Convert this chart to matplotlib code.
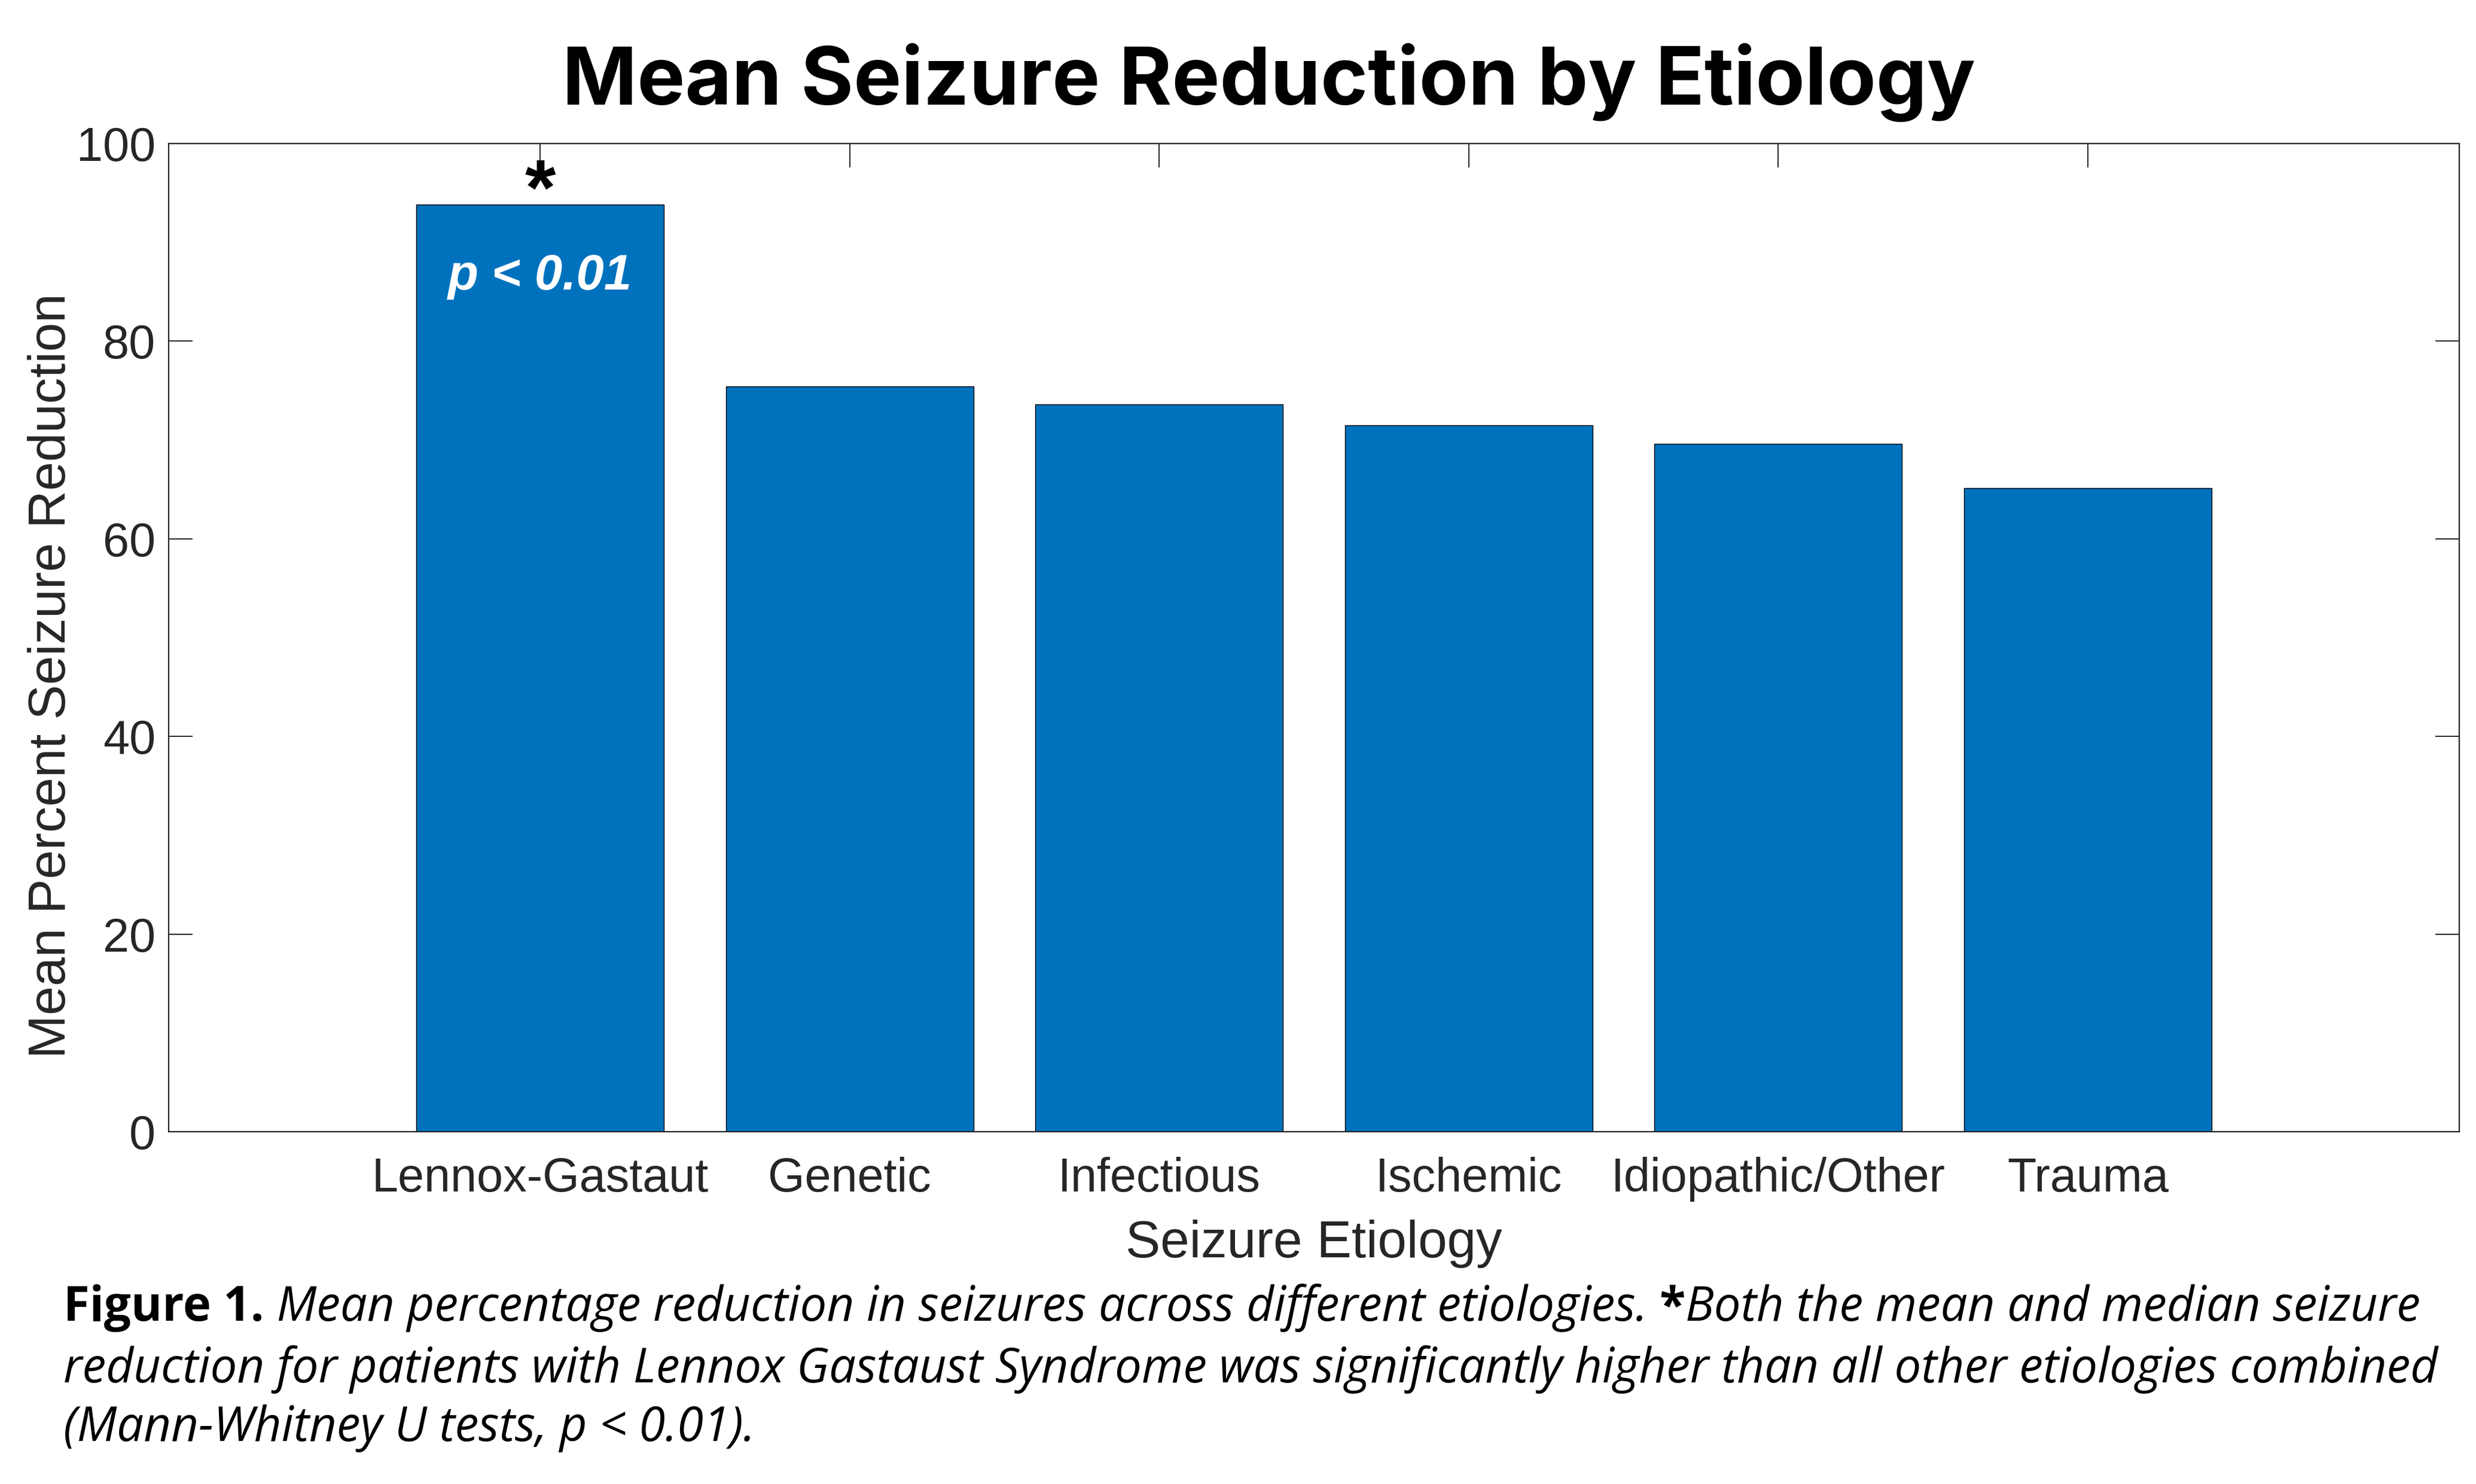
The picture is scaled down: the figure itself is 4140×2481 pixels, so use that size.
import matplotlib
matplotlib.use("Agg")
import matplotlib.pyplot as plt

# data
etiologies = ["Lennox-Gastaut", "Genetic", "Infectious", "Ischemic", "Idiopathic/Other", "Trauma"]
mean_reduction = [93.8, 75.4, 73.6, 71.5, 69.6, 65.1]
y_ticks = [0, 20, 40, 60, 80, 100]

caption_lines = [
    [("Figure 1.", "bold", "normal"),
     (" Mean percentage reduction in seizures across different etiologies. ", "normal", "italic"),
     ("*", "bold", "normal"),
     ("Both the mean and median seizure", "normal", "italic")],
    [("reduction for patients with Lennox Gastaust Syndrome was significantly higher than all other etiologies combined",
      "normal", "italic")],
    [("(Mann-Whitney U tests, p < 0.01).", "normal", "italic")],
]

bar_color = "#0072BD"
axis_color = "#262626"

plt.rcParams["font.family"] = ["Liberation Sans", "DejaVu Sans"]

W, H = 4140, 2481
fig = plt.figure(figsize=(W / 100, H / 100), dpi=100)
ax = fig.add_axes([0.0682, 0.2374, 0.9250, 0.6659])

positions = list(range(1, len(etiologies) + 1))
ax.bar(positions, mean_reduction, width=0.8, color=bar_color,
       edgecolor="black", linewidth=1.0, zorder=2)

ax.set_xlim(-0.2, 7.2)
ax.set_ylim(0, 100)
ax.set_xticks(positions)
ax.set_xticklabels(etiologies)
ax.set_yticks(y_ticks)

for spine in ax.spines.values():
    spine.set_color(axis_color)
    spine.set_linewidth(1.6)
    spine.set_zorder(3)

ax.tick_params(axis="both", which="major", direction="in", length=29, width=1.4,
               colors=axis_color, labelsize=57, top=True, right=True, zorder=3)
ax.tick_params(axis="x", pad=30)
ax.tick_params(axis="y", pad=16)

# significance marks on the first bar
ax.text(positions[0], 94.9, "*", ha="center", va="center", fontsize=95,
        fontweight="bold", color="black")
ax.text(positions[0], 85.2, "p < 0.01", ha="center", va="baseline", fontsize=60,
        fontweight="bold", fontstyle="italic", color="white")

ax.set_xlabel("Seizure Etiology", fontsize=62.7, color=axis_color, labelpad=22)
fig.text(0.021, 0.5445, "Mean Percent Seizure Reduction", ha="center", va="center",
         rotation=90, fontsize=62.7, color=axis_color)

fig.text(0.5125, 0.9445, "Mean Seizure Reduction by Etiology", ha="center", va="center",
         fontsize=96.8, fontweight="bold", family=["Inter", "DejaVu Sans"])

# caption: pieces placed one after another on shared baselines
cap_font = ["Open Sans", "DejaVu Sans"]
cap_size = 57.3
baselines = [2208, 2311, 2409]
renderer = fig.canvas.get_renderer()
for line, base in zip(caption_lines, baselines):
    x = 106 / W
    for piece, weight, style in line:
        t = fig.text(x, 1 - base / H, piece, ha="left", va="baseline",
                     fontsize=cap_size, fontweight=weight, fontstyle=style,
                     family=cap_font, color="black")
        x += t.get_window_extent(renderer).width / W

fig.savefig("out.png", dpi=100)
